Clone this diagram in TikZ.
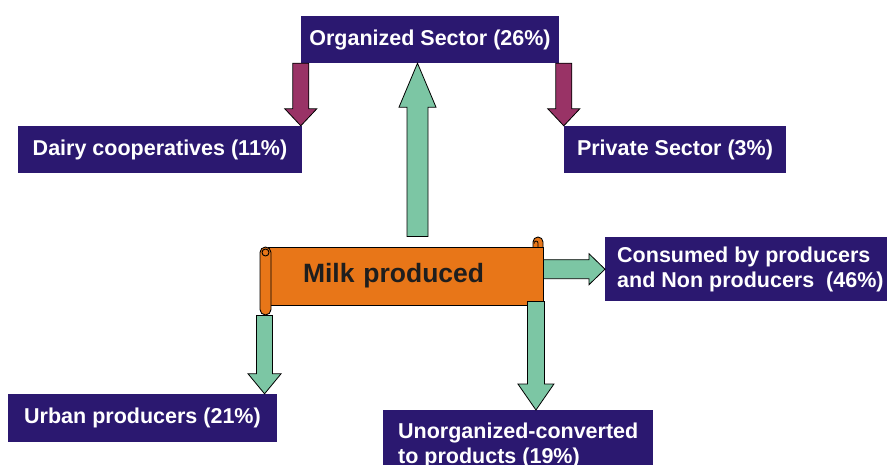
\documentclass[tikz,border=0pt]{standalone}
\usepackage{fontspec}
\setmainfont{Liberation Sans}
\usetikzlibrary{calc}

\definecolor{boxpurple}{RGB}{43,24,112}
\definecolor{arrowgreen}{RGB}{124,198,164}
\definecolor{arrowmaroon}{RGB}{153,51,102}
\definecolor{scrollorange}{RGB}{232,118,24}
\definecolor{milktext}{RGB}{30,30,30}

\tikzset{
  sectorbox/.style={fill=boxpurple, text=white, font=\bfseries\fontsize{21.5}{25.5}\selectfont, inner sep=0pt, minimum height=47pt},
  greenarrow/.style={fill=arrowgreen, draw=black, line width=0.8pt},
  maroonarrow/.style={fill=arrowmaroon, draw=black, line width=0.8pt},
  scrollpart/.style={fill=scrollorange, draw=black, line width=0.9pt},
}

% block arrow: style, from, to, half shaft, half head, head length
\newcommand{\blockarrow}[6]{%
  \path (#2) coordinate (ba-s) (#3) coordinate (ba-e);
  \coordinate (ba-h) at ($(ba-e)!#6!(ba-s)$);
  \draw[#1] ($(ba-s)!#4!90:(ba-e)$) -- ($(ba-h)!#4!90:(ba-e)$) -- ($(ba-h)!#5!90:(ba-e)$)
    -- (ba-e) -- ($(ba-h)!#5!-90:(ba-e)$) -- ($(ba-h)!#4!-90:(ba-e)$) -- ($(ba-s)!#4!-90:(ba-e)$) -- cycle;
}

\begin{document}
\begin{tikzpicture}[x=1pt, y=-1pt]

    \clip (0,0) rectangle (887,465);

    % Sector boxes
    \node[sectorbox, minimum width=258pt] (org) at (430,39.5) {Organized Sector (26\%)};
    \node[sectorbox, minimum width=284pt] (dairy) at (160,149.5) {Dairy cooperatives (11\%)};
    \node[sectorbox, minimum width=222pt] (private) at (675,149.5) {Private Sector (3\%)};
    \node[sectorbox, minimum width=269pt, minimum height=48pt] (urban) at (142.5,418) {Urban producers (21\%)};
    \node[sectorbox, anchor=north west, align=left, inner xsep=12pt, minimum height=64pt] (consumed) at (605,237) {Consumed by producers\\and Non producers\ \ (46\%)};
    \node[sectorbox, anchor=north west, align=left, inner xsep=15pt, inner ysep=11pt, minimum width=269pt, minimum height=70pt] (unorg) at (383,410) {Unorganized-converted\\to products (19\%)};

    % Milk scroll
    \node[scrollpart, minimum width=275pt, minimum height=58pt, inner xsep=35pt, text width=205pt, align=left, font=\bfseries\fontsize{26.5}{30}\selectfont, text=milktext] (milk) at (405.5,276) {Milk produced};
    \draw[scrollpart] (533,247) -- (533,242) arc[start angle=180, end angle=0, radius=5pt] -- (543,247);
    \draw[line width=0.8pt] (538,247) -- (538,243) arc[start angle=0, end angle=200, radius=2pt];
    \draw[scrollpart, rounded corners=5.5pt] (260,247) rectangle (271,315);
    \draw[scrollpart] (265.5,252.5) circle[radius=3.5pt];

    % Arrows
    \coordinate (upend) at ([xshift=-12.5pt]org.south);
    \coordinate (milktop) at ([yshift=10pt]milk.north);
    \blockarrow{greenarrow}{milktop -| upend}{upend}{10.5pt}{18.5pt}{44pt}
    \blockarrow{maroonarrow}{org.south west}{org.south west |- dairy.north}{8pt}{16pt}{17pt}
    \coordinate (privtop) at (private.north west);
    \blockarrow{maroonarrow}{privtop |- org.south}{privtop}{8pt}{16pt}{17pt}
    \blockarrow{greenarrow}{milk.east |- consumed.west}{consumed.west}{9.5pt}{15.5pt}{16pt}
    \coordinate (urbanfoot) at ([xshift=-3pt,yshift=-10pt]milk.south west);
    \blockarrow{greenarrow}{urbanfoot}{urbanfoot |- urban.north}{8pt}{16.5pt}{20pt}
    \coordinate (unorgfoot) at ([xshift=-7.5pt,yshift=4pt]milk.south east);
    \blockarrow{greenarrow}{unorgfoot}{unorgfoot |- unorg.north}{8.5pt}{18pt}{26pt}

\end{tikzpicture}
\end{document}
